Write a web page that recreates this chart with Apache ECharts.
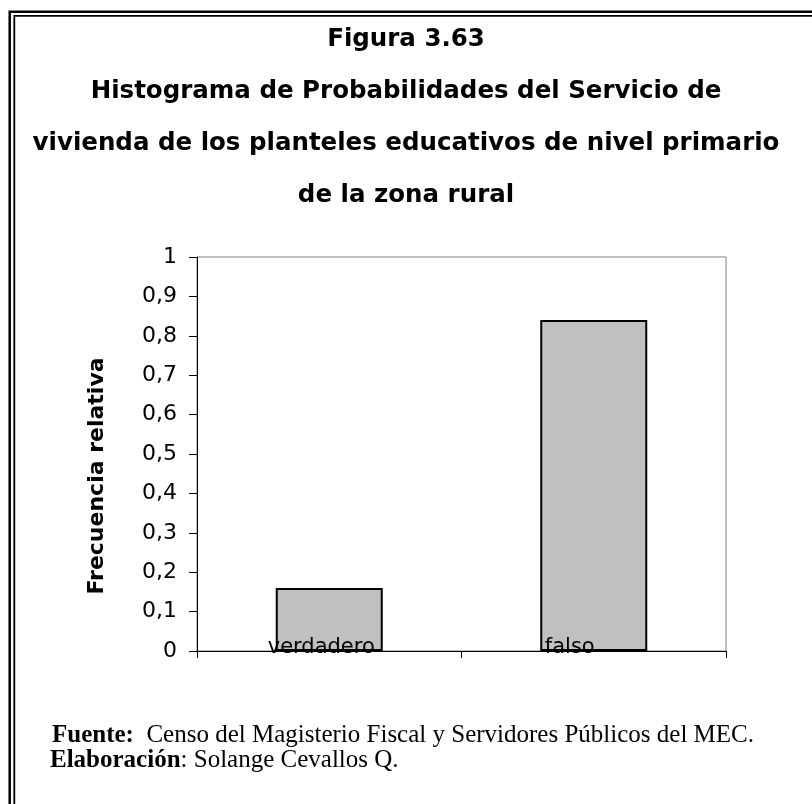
<!DOCTYPE html>
<html>
<head>
<meta charset="utf-8">
<script src="https://cdn.jsdelivr.net/npm/echarts@6/dist/echarts.min.js"></script>
<style>
  html, body { margin: 0; padding: 0; background: #fff; }
  #chart { width: 812px; height: 804px; }
</style>
</head>
<body>
<div id="chart"></div>
<script>
// data
const categories = ['verdadero', 'falso'];
const frecuencia = [0.16, 0.84];
const yTicks = [0, 0.1, 0.2, 0.3, 0.4, 0.5, 0.6, 0.7, 0.8, 0.9, 1];

const titleLines = [
  'Figura 3.63',
  'Histograma de Probabilidades del Servicio de',
  'vivienda de los planteles educativos de nivel primario',
  'de la zona rural'
];

// category labels sit inside the bars, a bit left of centre
const labelShift = [-8, -24];

const sans = 'DejaVu Sans';
const serif = 'Liberation Serif';

const chart = echarts.init(document.getElementById('chart'));

// footer: bold lead-in and plain rest drawn as two texts on one baseline
function footLine(x, y, boldPart, rest) {
  const boldW = echarts.format.getTextRect
    ? echarts.format.getTextRect(boldPart, 'bold 25px "' + serif + '"').width
    : boldPart.length * 13;
  return [
    {
      type: 'text', x: x, y: y,
      style: { text: boldPart, font: 'bold 25px "' + serif + '"', fill: '#000', verticalAlign: 'bottom' }
    },
    {
      type: 'text', x: x + boldW, y: y,
      style: { text: rest, font: '25px "' + serif + '"', fill: '#000', verticalAlign: 'bottom' }
    }
  ];
}

chart.setOption({
  backgroundColor: '#fff',
  animation: false,
  title: {
    text: titleLines.join('\n'),
    left: 'center',
    top: 9,
    textStyle: {
      fontFamily: sans,
      fontSize: 24.5,
      fontWeight: 'bold',
      lineHeight: 52,
      color: '#000'
    }
  },
  grid: {
    left: 197,
    top: 257,
    right: 86,
    bottom: 153,
    show: true,
    borderColor: '#808080',
    borderWidth: 1
  },
  xAxis: {
    type: 'category',
    data: categories,
    axisLine: { lineStyle: { color: '#000', width: 1 } },
    axisTick: { show: true, length: 7, lineStyle: { color: '#000' } },
    axisLabel: { show: false },
    splitLine: { show: false }
  },
  yAxis: {
    type: 'value',
    min: yTicks[0],
    max: yTicks[yTicks.length - 1],
    interval: 0.1,
    name: 'Frecuencia relativa',
    nameLocation: 'middle',
    nameGap: 89,
    nameRotate: 90,
    nameTextStyle: {
      fontFamily: sans,
      fontSize: 22,
      fontWeight: 'bold',
      color: '#000',
      padding: [0, 44, 0, 0]
    },
    axisLine: { show: true, lineStyle: { color: '#000', width: 1 } },
    axisTick: { show: true, length: 8, lineStyle: { color: '#000' } },
    axisLabel: {
      fontFamily: sans,
      fontSize: 22,
      color: '#000',
      margin: 20,
      formatter: v => String(Math.round(v * 10) / 10).replace('.', ',')
    },
    splitLine: { show: false }
  },
  series: [{
    type: 'bar',
    barWidth: 107,
    data: frecuencia.map((v, i) => ({
      value: v,
      label: { offset: [labelShift[i], -3] }
    })),
    itemStyle: {
      color: '#c0c0c0',
      borderColor: '#000',
      borderWidth: 2
    },
    label: {
      show: true,
      position: ['50%', '100%'],
      align: 'center',
      verticalAlign: 'middle',
      fontFamily: sans,
      fontSize: 21,
      color: '#000',
      formatter: p => p.name
    },
    z: 3
  }],
  graphic: [
    // double frame, only top and left sides fall inside the picture
    {
      type: 'polyline',
      shape: { points: [[9.7, 804], [9.7, 11.8], [812, 11.8]] },
      style: { fill: null, stroke: '#000', lineWidth: 2.5 }
    },
    {
      type: 'polyline',
      shape: { points: [[14.3, 804], [14.3, 15.8], [812, 15.8]] },
      style: { fill: null, stroke: '#000', lineWidth: 1.8 }
    }
  ]
    .concat(footLine(52, 748, 'Fuente:', '  Censo del Magisterio Fiscal y Servidores Públicos del MEC.'))
    .concat(footLine(50, 773, 'Elaboración', ': Solange Cevallos Q.'))
});
</script>
</body>
</html>
